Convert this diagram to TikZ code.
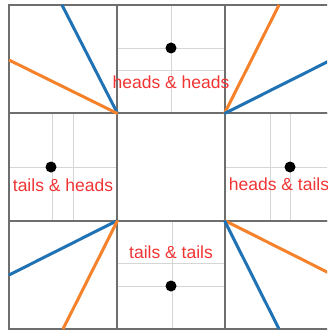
\documentclass[tikz,border=0pt]{standalone}
\usepackage{fontspec}
\setmainfont{Liberation Sans}
\usetikzlibrary{positioning}
\definecolor{PlotBlue}{HTML}{1F72B4}
\definecolor{PlotOrange}{HTML}{F5822A}
\definecolor{FrameGray}{HTML}{6E6E6E}
\definecolor{GridGray}{HTML}{D6D6D6}
\definecolor{LabelRed}{HTML}{F03434}
\tikzset{
  panel/.style={draw=FrameGray,line width=1.2pt,minimum size=108pt,inner sep=0pt},
  gridline/.style={draw=GridGray,line width=0.8pt},
  blueline/.style={draw=PlotBlue,line width=3pt},
  orangeline/.style={draw=PlotOrange,line width=3pt},
  outcome/.style={font=\fontsize{17.5}{20}\selectfont,text=LabelRed,anchor=base,inner sep=0pt},
  coin/.style={circle,fill=black,minimum size=11pt,inner sep=0pt}
}
\newcommand{\plotpanel}[2]{%
  \node[panel] (#1) at #2 {};
}

\begin{document}
\begin{tikzpicture}[x=1pt,y=-1pt]
  \useasboundingbox (0,0) rectangle (327,331);
  \clip (0,0) rectangle (327,331);

  % grid of the four outcome panels
  \draw[gridline] (171,5) -- (171,113);
  \draw[gridline] (117,48) -- (225,48);
  \draw[gridline] (117,70) -- (225,70);
  \draw[gridline] (52,113) -- (52,221);
  \draw[gridline] (73,113) -- (73,221);
  \draw[gridline] (9,167) -- (117,167);
  \draw[gridline] (270,113) -- (270,221);
  \draw[gridline] (290,113) -- (290,221);
  \draw[gridline] (225,167) -- (333,167);
  \draw[gridline] (172,221) -- (172,329);
  \draw[gridline] (117,263) -- (225,263);
  \draw[gridline] (117,286) -- (225,286);

  \plotpanel{tl}{(63,59)}
  \plotpanel{tm}{(171,59)}
  \plotpanel{tr}{(279,59)}
  \plotpanel{ml}{(63,167)}
  \plotpanel{mm}{(171,167)}
  \plotpanel{mr}{(279,167)}
  \plotpanel{bl}{(63,275)}
  \plotpanel{bm}{(171,275)}
  \plotpanel{br}{(279,275)}

  % corner panels
  \coordinate (tlblue) at (62,5);
  \coordinate (tlorange) at (9,60);
  \coordinate (trorange) at (279,5);
  \coordinate (trblue) at (333,59);
  \coordinate (blblue) at (9,275);
  \coordinate (blorange) at (63,329);
  \coordinate (brorange) at (333,275);
  \coordinate (brblue) at (279,329);
  \draw[blueline] (tl.south east) -- (tlblue);
  \draw[orangeline] (tl.south east) -- (tlorange);
  \draw[orangeline] (tr.south west) -- (trorange);
  \draw[blueline] (tr.south west) -- (trblue);
  \draw[blueline] (bl.north east) -- (blblue);
  \draw[orangeline] (bl.north east) -- (blorange);
  \draw[orangeline] (br.north west) -- (brorange);
  \draw[blueline] (br.north west) -- (brblue);

  % outcomes
  \node[coin] (hhcoin) at (171,48) {};
  \node[coin] (thcoin) at (51,167) {};
  \node[coin] (htcoin) at (290,167) {};
  \node[coin] (ttcoin) at (171,286) {};
  \node[outcome] (hh) at (171,89) {heads \& heads};
  \node[outcome] (th) at (63,191) {tails \& heads};
  \node[outcome] (ht) at (279,190) {heads \& tails};
  \node[outcome] (tt) at (171,258) {tails \& tails};
\end{tikzpicture}
\end{document}
